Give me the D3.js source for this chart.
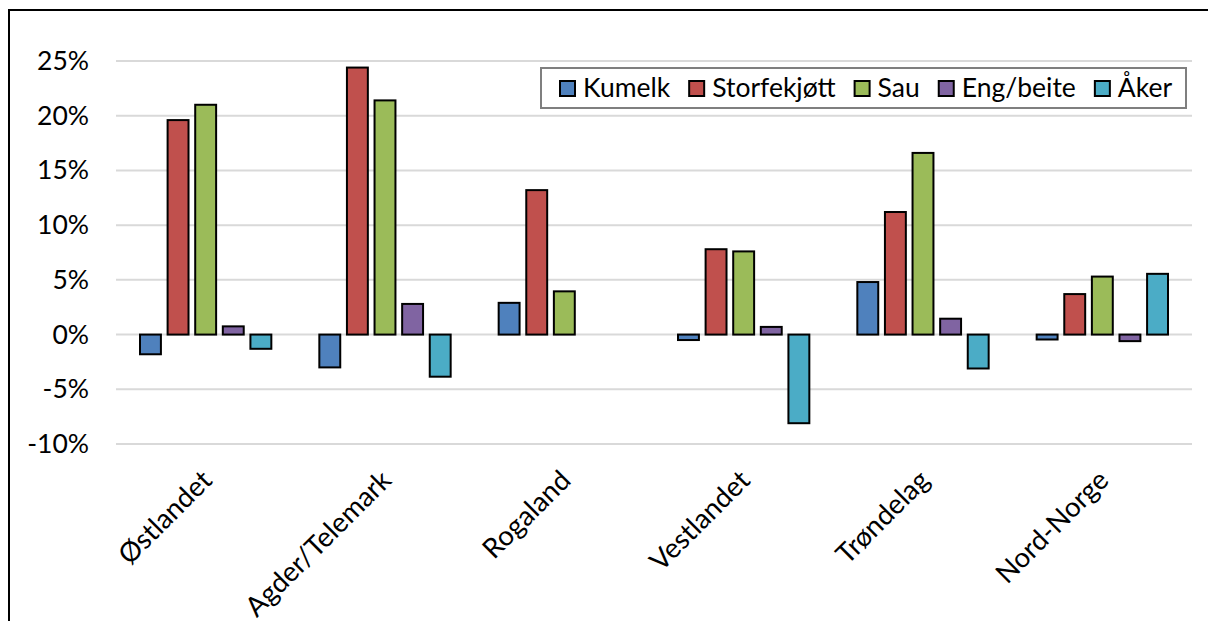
<!DOCTYPE html>
<html lang="no">
<head>
<meta charset="UTF-8">
<title>Endring per region</title>
<style>
  * { margin: 0; padding: 0; box-sizing: border-box; }
  body { background: #fff; width: 1208px; height: 621px; overflow: hidden; }
  svg { display: block; }
  text { font-family: Lato, 'Open Sans', sans-serif; fill: #000; }
</style>
</head>
<body>
<svg width="1208" height="621"></svg>
<script src="https://d3js.org/d3.v7.min.js"></script>
<script>
// Data (prosent endring per region og produksjon)
const regions = ['Østlandet', 'Agder/Telemark', 'Rogaland', 'Vestlandet', 'Trøndelag', 'Nord-Norge'];
const series = ['Kumelk', 'Storfekjøtt', 'Sau', 'Eng/beite', 'Åker'];
const kumelk      = [-1.8, -3.0,  2.9, -0.5,  4.8, -0.45];
const storfekjott = [19.6, 24.4, 13.2,  7.8, 11.2,  3.7];
const sau         = [21.0, 21.4,  3.95, 7.6, 16.6,  5.3];
const engBeite    = [0.75,  2.8,  0,    0.7,  1.45, -0.6];
const aker        = [-1.3, -3.85, 0,   -8.1, -3.1,  5.55];
const yTicks = [-10, -5, 0, 5, 10, 15, 20, 25];

const values = [kumelk, storfekjott, sau, engBeite, aker];
const colors = ['#4F81BD', '#C0504D', '#9BBB59', '#8064A2', '#4BACC6'];

const svg = d3.select('svg');

// chart frame (right and bottom edges fall outside the picture)
svg.append('rect')
  .attr('x', 9).attr('y', 10)
  .attr('width', 1300).attr('height', 700)
  .attr('fill', 'none').attr('stroke', '#000').attr('stroke-width', 2);

const plot = { left: 116, right: 1192, top: 61, bottom: 444 };

const x0 = d3.scaleBand().domain(regions).range([plot.left, plot.right]).padding(0);
const x1 = d3.scaleBand().domain(series)
  .range([23, x0.bandwidth() - 23])
  .paddingInner(0.17).paddingOuter(0);
const y = d3.scaleLinear().domain([-10, 25]).range([plot.bottom, plot.top]);

// gridlines
svg.append('g').selectAll('line')
  .data(yTicks).join('line')
  .attr('x1', plot.left).attr('x2', plot.right)
  .attr('y1', d => y(d)).attr('y2', d => y(d))
  .attr('stroke', '#D9D9D9').attr('stroke-width', 2);

// y axis labels
const yAxis = d3.axisLeft(y).tickValues(yTicks).tickSize(0).tickPadding(0)
  .tickFormat(d => d + '%');
const yg = svg.append('g').attr('transform', 'translate(89,0)').call(yAxis);
yg.select('.domain').remove();
yg.selectAll('text')
  .style('font-family', 'Lato, sans-serif')
  .attr('font-size', 26.5).attr('fill', '#000');

// bars
const groups = svg.append('g').selectAll('g')
  .data(regions).join('g')
  .attr('transform', d => `translate(${x0(d)},0)`);

groups.selectAll('rect')
  .data((r, i) => series.map((s, j) => ({ s, v: values[j][i], c: colors[j] })))
  .join('rect')
  .filter(d => d.v !== 0)
  .attr('x', d => x1(d.s) + 1)
  .attr('width', x1.bandwidth() - 2)
  .attr('y', d => Math.min(y(d.v), y(0)))
  .attr('height', d => Math.abs(y(d.v) - y(0)))
  .attr('fill', d => d.c)
  .attr('stroke', '#000').attr('stroke-width', 2);

// x labels, rotated
svg.append('g').selectAll('text')
  .data(regions).join('text')
  .attr('transform', d => `translate(${x0(d) + x0.bandwidth() / 2 + 8},482) rotate(-45)`)
  .attr('text-anchor', 'end')
  .attr('font-size', 27.5)
  .text(d => d);

// legend
const legend = svg.append('g');
legend.append('rect')
  .attr('x', 541).attr('y', 68).attr('width', 645).attr('height', 40)
  .attr('fill', '#fff').attr('stroke', '#7F7F7F').attr('stroke-width', 2);

let lx = 560;
series.forEach((s, i) => {
  legend.append('rect')
    .attr('x', lx).attr('y', 81).attr('width', 15).attr('height', 15)
    .attr('fill', colors[i]).attr('stroke', '#000').attr('stroke-width', 2);
  const t = legend.append('text')
    .attr('x', lx + 23).attr('y', 97)
    .attr('font-size', 26.5)
    .text(s);
  lx += 23 + t.node().getComputedTextLength() + 19;
});
</script>
</body>
</html>
